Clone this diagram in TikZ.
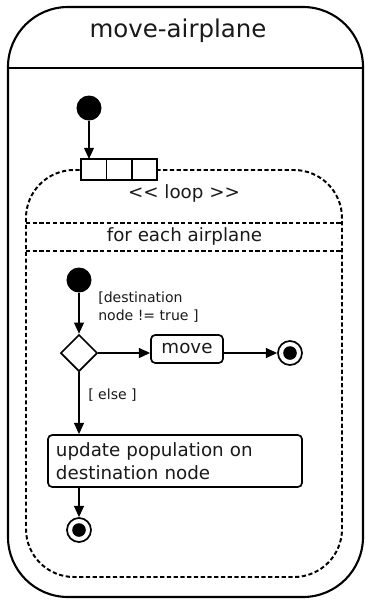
\documentclass[tikz,border=0pt]{standalone}
\usepackage{fontspec}
\setmainfont{DejaVu Sans}
\usepackage{tikz}
\usetikzlibrary{arrows.meta,positioning,shapes.geometric}
\definecolor{figline}{RGB}{0,0,0}
\definecolor{figtext}{RGB}{25,25,25}
\tikzset{
  outer/.style  ={draw=figline, line width=1.5pt},
  loopln/.style ={draw=figline, line width=1.4pt, dash pattern=on 3pt off 1.8pt},
  ttl/.style    ={font=\fontsize{17.4}{20}\selectfont, text=figtext, inner sep=0pt},
  txt/.style    ={font=\fontsize{13}{16.4}\selectfont, text=figtext, inner sep=0pt},
  grd/.style    ={font=\fontsize{10}{12.8}\selectfont, text=figtext, inner sep=0pt, align=left},
  init/.style   ={circle, fill=figline, minimum size=0.625cm, inner sep=0pt},
  final/.style  ={circle, draw=figline, line width=1.2pt, fill=white, minimum size=0.6cm, inner sep=0pt,
                  path picture={\fill[figline] (path picture bounding box.center) circle (0.17cm);}},
  pinbox/.style ={draw=figline, line width=1.2pt, fill=white, minimum width=0.633cm, minimum height=0.525cm,
                  inner sep=0pt, outer sep=0pt},
  choice/.style ={diamond, draw=figline, line width=1.2pt, minimum size=0.92cm, inner sep=0pt},
  act/.style    ={draw=figline, line width=1.2pt, rounded corners=3pt, txt},
  arr/.style    ={draw=figline, line width=1.2pt, -{Triangle[length=8pt,width=7pt]}},
}
\begin{document}
\begin{tikzpicture}[x=0.025cm,y=-0.025cm]
  \useasboundingbox (0,0) rectangle (366,600);
  \draw[outer,rounded corners=1.5cm] (8,7) rectangle (363,597);
  \draw[outer] (8,68) -- (363,68);
  \node[ttl] (title) at (178,31) {move-airplane};
  \draw[loopln,rounded corners=1.2cm] (26,170) rectangle (342,577);
  \draw[loopln] (26,223) -- (342,223);
  \draw[loopln] (26,251) -- (342,251);
  \node[txt] (looplbl) at (184,193) {<\kern0pt< loop >\kern0pt>};
  \node[txt] (each) at (184.5,236) {for each airplane};
  \node[init] (start) at (89,108) {};
  \node[pinbox] (pinA) at (93.7,169.5) {};
  \node[pinbox,right=0pt of pinA] (pinB) {};
  \node[pinbox,right=0pt of pinB] (pinC) {};
  \draw[arr] (start) -- (start |- pinA.north);
  \node[init] (inner) at (79,280) {};
  \node[choice] (dec) at (79,353) {};
  \node[act,minimum width=1.8cm,minimum height=0.7cm] (move) at (187,349) {move};
  \node[final] (endA) at (290,353) {};
  \node[act,minimum width=6.35cm,minimum height=1.3cm,text width=5.95cm,align=left,inner xsep=0.2cm]
    (update) at (175,461) {update population on\\destination node};
  \node[final] (endB) at (79,530) {};
  \node[grd,anchor=west] (guard) at (98,307) {[destination\\node != true ]};
  \node[grd,anchor=west] (other) at (88,395) {[ else ]};
  \draw[arr] (inner) -- (dec);
  \draw[arr] (dec) -- (dec -| move.west);
  \draw[arr] (move.east |- endA) -- (endA);
  \draw[arr] (dec) -- (dec |- update.north);
  \draw[arr] (update.south -| endB) -- (endB);
\end{tikzpicture}
\end{document}
